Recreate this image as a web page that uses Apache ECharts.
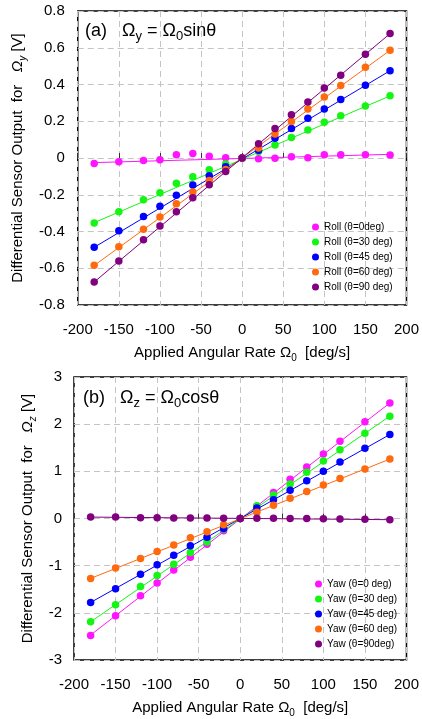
<!DOCTYPE html>
<html>
<head>
<meta charset="utf-8">
<script src="https://cdn.jsdelivr.net/npm/echarts@6/dist/echarts.min.js"></script>
<style>
  html, body { margin: 0; padding: 0; background: #fff; }
  #chart { width: 422px; height: 719px; }
</style>
</head>
<body>
<div id="chart"></div>
<script>
// Applied angular rate (deg/s) at each measurement point
const rates = [-180, -150, -120, -100, -80, -60, -40, -20, 0, 20, 40, 60, 80, 100, 120, 150, 180];

// (a) Roll rotation: sensor output for Ωy [V]
const roll0  = [-0.03, -0.02, -0.013, -0.01, 0.018, 0.025, 0.01, 0.002, 0, -0.004, -0.002, 0.007, 0.002, 0.018, 0.018, 0.018, 0.016];
const roll30 = [-0.354, -0.292, -0.227, -0.189, -0.138, -0.102, -0.064, -0.033, 0, 0.036, 0.071, 0.111, 0.152, 0.194, 0.23, 0.283, 0.339];
const roll45 = [-0.486, -0.396, -0.318, -0.263, -0.203, -0.147, -0.096, -0.047, 0, 0.042, 0.107, 0.16, 0.216, 0.267, 0.319, 0.396, 0.475];
const roll60 = [-0.584, -0.483, -0.388, -0.321, -0.249, -0.185, -0.123, -0.062, 0, 0.054, 0.131, 0.198, 0.267, 0.332, 0.394, 0.494, 0.586];
const roll90 = [-0.675, -0.561, -0.445, -0.37, -0.292, -0.216, -0.145, -0.073, 0, 0.078, 0.16, 0.236, 0.305, 0.381, 0.45, 0.564, 0.677];

// (b) Yaw rotation: sensor output for Ωz [V]
const yaw0  = [-2.48, -2.06, -1.64, -1.37, -1.09, -0.82, -0.545, -0.26, 0, 0.26, 0.55, 0.83, 1.09, 1.37, 1.64, 2.05, 2.45];
const yaw30 = [-2.19, -1.83, -1.44, -1.21, -0.97, -0.72, -0.5, -0.23, 0, 0.27, 0.5, 0.73, 0.98, 1.22, 1.46, 1.81, 2.17];
const yaw45 = [-1.78, -1.49, -1.18, -0.98, -0.78, -0.58, -0.4, -0.21, 0, 0.22, 0.4, 0.6, 0.8, 1.0, 1.2, 1.49, 1.78];
const yaw60 = [-1.27, -1.05, -0.85, -0.7, -0.56, -0.41, -0.28, -0.13, 0, 0.13, 0.28, 0.43, 0.57, 0.71, 0.85, 1.05, 1.26];
const yaw90 = [0.03, 0.03, 0.014, 0.014, 0.012, 0.012, 0.01, 0.005, 0, 0.005, 0.004, 0.002, 0.0, -0.005, -0.01, -0.015, -0.025];

// Linear fit lines: output at -180 and +180 deg/s
const fitRange = [-180, 180];
const rollFit0  = [-0.025, 0.02];
const rollFit30 = [-0.352, 0.338];
const rollFit45 = [-0.486, 0.475];
const rollFit60 = [-0.585, 0.586];
const rollFit90 = [-0.675, 0.677];
const yawFit0  = [-2.47, 2.45];
const yawFit30 = [-2.19, 2.17];
const yawFit45 = [-1.78, 1.78];
const yawFit60 = [-1.27, 1.26];
const yawFit90 = [0.03, -0.025];

const rollNames = ['Roll (θ=0deg)', 'Roll (θ=30 deg)', 'Roll (θ=45 deg)', 'Roll (θ=60 deg)', 'Roll (θ=90 deg)'];
const yawNames  = ['Yaw (θ=0 deg)', 'Yaw (θ=30 deg)', 'Yaw (θ=45 deg)', 'Yaw (θ=60 deg)', 'Yaw (θ=90deg)'];
const colors = ['#ff14ff', '#14f514', '#0000ff', '#ff6a0e', '#800080'];

const FONT = 'Liberation Sans, Arial, sans-serif';

const zip = (xs, ys) => xs.map((x, i) => [x, ys[i]]);

function buildSeries(names, values, fits, idx) {
  const out = [];
  names.forEach((name, i) => {
    out.push({
      type: 'line', xAxisIndex: idx, yAxisIndex: idx,
      data: zip(fitRange, fits[i]), showSymbol: false, symbol: 'none',
      lineStyle: { color: colors[i], width: 1, opacity: 1 }, silent: true, z: 2 + i,
      legendHoverLink: false
    });
  });
  names.forEach((name, i) => {
    out.push({
      name: name, type: 'scatter', xAxisIndex: idx, yAxisIndex: idx,
      data: zip(rates, values[i]), symbol: 'circle', symbolSize: 7.5,
      itemStyle: { color: colors[i], opacity: 1 }, z: 10 + i
    });
  });
  return out;
}

const splitLine = { show: true, lineStyle: { color: '#c4c4c4', width: 1, type: [6, 4] } };
const axisLabel = { color: '#000', fontSize: 15, fontFamily: FONT };

function xAxis(idx) {
  return {
    type: 'value', gridIndex: idx, min: -200, max: 200, interval: 50,
    axisLine: { show: false },
    axisTick: { show: true, inside: true, length: 5, lineStyle: { color: '#333' } },
    axisLabel: Object.assign({ margin: 17 }, axisLabel),
    splitLine: splitLine,
    name: 'Applied Angular Rate {o|Ω}{s|0}  [deg/s]',
    nameLocation: 'middle', nameGap: 38,
    nameTextStyle: {
      color: '#000', fontSize: 15, fontFamily: FONT, lineHeight: 20,
      rich: {
        o: { fontSize: 15, fontFamily: FONT, color: '#000', lineHeight: 20 },
        s: { fontSize: 10, fontFamily: FONT, color: '#000', lineHeight: 10, verticalAlign: 'bottom' }
      }
    }
  };
}

function yAxis(idx, min, max, interval, sub, gap, margin) {
  return {
    type: 'value', gridIndex: idx, min: min, max: max, interval: interval,
    axisLine: { show: false }, axisTick: { show: false },
    axisLabel: Object.assign({ margin: margin }, axisLabel),
    splitLine: splitLine,
    name: 'Differential Sensor Output  for   {o|Ω}{s|' + sub + '} [V]',
    nameLocation: 'middle', nameGap: gap,
    nameTextStyle: {
      color: '#000', fontSize: 15, fontFamily: FONT, lineHeight: 20,
      rich: {
        o: { fontSize: 15, fontFamily: FONT, color: '#000', lineHeight: 20, fontStyle: 'italic' },
        s: { fontSize: 10, fontFamily: FONT, color: '#000', lineHeight: 10, verticalAlign: 'bottom', fontStyle: 'italic' }
      }
    }
  };
}

function panelTitle(label, sub, fn, left, top) {
  return {
    text: label + '   {o|Ω}{s|' + sub + '} = {o|Ω}{s|0}' + fn,
    left: left, top: top, padding: 0,
    textStyle: {
      color: '#000', fontSize: 18, fontWeight: 'normal', fontFamily: FONT, lineHeight: 24,
      rich: {
        o: { fontSize: 18, fontFamily: FONT, color: '#000', lineHeight: 24 },
        s: { fontSize: 13, fontFamily: FONT, color: '#000', lineHeight: 12, verticalAlign: 'bottom' }
      }
    }
  };
}

function legend(names, left, top) {
  return {
    data: names, orient: 'vertical', left: left, top: top, padding: 0,
    itemWidth: 7, itemHeight: 7, itemGap: 3, icon: 'circle',
    textStyle: { color: '#000', fontSize: 10, fontFamily: FONT, lineHeight: 12 },
    selectedMode: false
  };
}

const chart = echarts.init(document.getElementById('chart'), null, { renderer: 'canvas' });
chart.setOption({
  animation: false,
  backgroundColor: '#fff',
  title: [
    panelTitle('(a)', 'y', 'sinθ', 85, 19),
    panelTitle('(b)', 'z', 'cosθ', 83, 386)
  ],
  legend: [
    legend(rollNames, 312, 221),
    legend(yawNames, 315, 578)
  ],
  grid: [
    { left: 73, right: 13, top: 11, height: 294, show: true, borderColor: '#000', borderWidth: 1.5, backgroundColor: 'transparent' },
    { left: 74, right: 13, top: 377, height: 283, show: true, borderColor: '#000', borderWidth: 1.5, backgroundColor: 'transparent' }
  ],
  xAxis: [xAxis(0), xAxis(1)],
  yAxis: [
    yAxis(0, -0.8, 0.8, 0.2, 'y', 46, 13),
    yAxis(1, -3, 3, 1, 'z', 27, 12)
  ],
  series: [].concat(
    buildSeries(rollNames, [roll0, roll30, roll45, roll60, roll90],
                [rollFit0, rollFit30, rollFit45, rollFit60, rollFit90], 0),
    buildSeries(yawNames, [yaw0, yaw30, yaw45, yaw60, yaw90],
                [yawFit0, yawFit30, yawFit45, yawFit60, yawFit90], 1)
  )
});
</script>
</body>
</html>
